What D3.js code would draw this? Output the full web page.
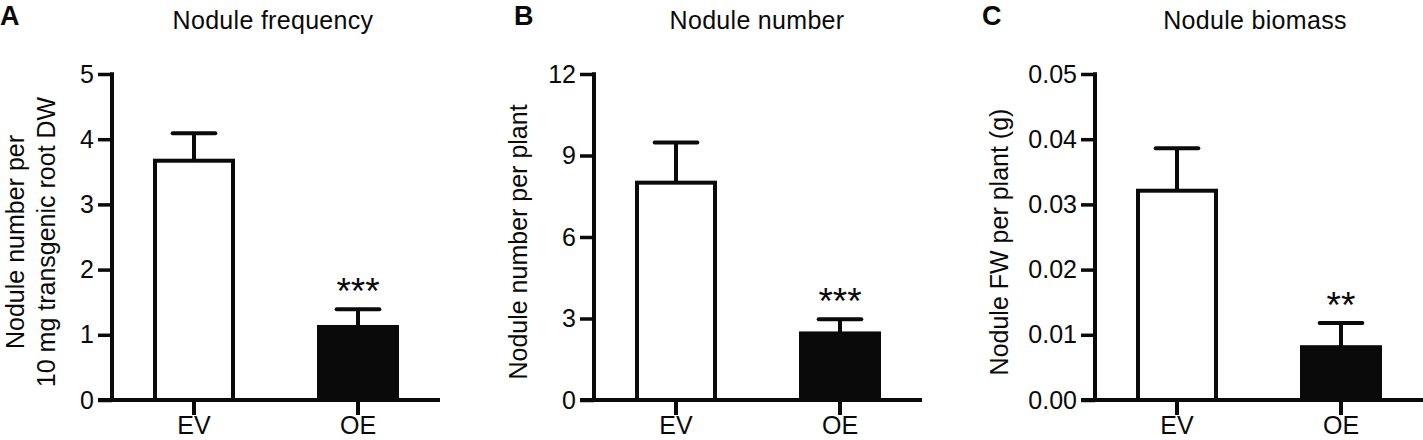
<!DOCTYPE html>
<html>
<head>
<meta charset="utf-8">
<script src="https://cdn.jsdelivr.net/npm/d3@7"></script>
<style>
  html, body { margin: 0; padding: 0; background: #fff; }
  svg { display: block; font-family: "Liberation Sans", Arial, Helvetica, sans-serif; }
</style>
</head>
<body>
<svg id="chart" width="1423" height="440"></svg>
<script>
// ---- data ----
const categories = ["EV", "OE"];

const freqMean = [3.67, 1.12];
const freqSem  = [0.42, 0.27];
const freqStars = ["", "***"];
const freqTicks = [0, 1, 2, 3, 4, 5];

const numMean = [8.0, 2.45];
const numSem  = [1.48, 0.52];
const numStars = ["", "***"];
const numTicks = [0, 3, 6, 9, 12];

const massMean = [0.0321, 0.0081];
const massSem  = [0.0065, 0.0037];
const massStars = ["", "**"];
const massTicks = [0, 0.01, 0.02, 0.03, 0.04, 0.05];

const panelLetters = ["A", "B", "C"];
const panelTitles = ["Nodule frequency", "Nodule number", "Nodule biomass"];
const yLabels = [
  ["Nodule number per", "10 mg transgenic root DW"],
  ["Nodule number per plant"],
  ["Nodule FW per plant (g)"]
];
const barFills = ["#ffffff", "#0a0a0a"];

// ---- layout ----
const svg = d3.select("#chart");
const ink = "#0a0a0a";
const yTop = 74, yBottom = 400;
const plotW = 328;
const fs = 25;

const panels = [
  { axisX: 112, mean: freqMean, sem: freqSem, stars: freqStars, ticks: freqTicks, max: 5, fmt: d3.format("d"), letterX: 0, titleX: 273, ylabX: [24, 55] },
  { axisX: 594, mean: numMean, sem: numSem, stars: numStars, ticks: numTicks, max: 12, fmt: d3.format("d"), letterX: 514, titleX: 757, ylabX: [527] },
  { axisX: 1095, mean: massMean, sem: massSem, stars: massStars, ticks: massTicks, max: 0.05, fmt: d3.format(".2f"), letterX: 982, titleX: 1255, ylabX: [1008] }
];

panels.forEach((p, i) => {
  const g = svg.append("g").attr("transform", `translate(${p.axisX},0)`);

  const y = d3.scaleLinear().domain([0, p.max]).range([yBottom, yTop]);
  const x = d3.scaleBand().domain(categories).range([0, plotW]).paddingInner(0.5).paddingOuter(0.25);

  // bars
  const sw = 4;
  g.selectAll("rect.bar").data(categories).enter().append("rect")
    .attr("class", "bar")
    .attr("x", d => x(d) + sw / 2)
    .attr("width", x.bandwidth() - sw)
    .attr("y", (d, j) => y(p.mean[j]))
    .attr("height", (d, j) => yBottom - y(p.mean[j]))
    .attr("fill", (d, j) => barFills[j])
    .attr("stroke", ink)
    .attr("stroke-width", sw);

  // error bars (upper only)
  const capW = x.bandwidth() * 0.52;
  categories.forEach((c, j) => {
    const cx = x(c) + x.bandwidth() / 2;
    const top = y(p.mean[j] + p.sem[j]);
    g.append("line").attr("x1", cx).attr("x2", cx)
      .attr("y1", y(p.mean[j])).attr("y2", top)
      .attr("stroke", ink).attr("stroke-width", 4);
    g.append("line").attr("x1", cx - capW / 2).attr("x2", cx + capW / 2)
      .attr("y1", top).attr("y2", top)
      .attr("stroke", ink).attr("stroke-width", 4).attr("stroke-linecap", "round");
    if (p.stars[j]) {
      g.append("text").attr("x", cx).attr("y", top - 5)
        .attr("text-anchor", "middle").attr("font-size", 37).attr("fill", ink)
        .text(p.stars[j]);
    }
  });

  // y axis
  const yAxis = d3.axisLeft(y).tickValues(p.ticks).tickFormat(p.fmt).tickSize(14).tickSizeOuter(0).tickPadding(4);
  const ya = g.append("g").call(yAxis);
  ya.select(".domain").remove();
  ya.selectAll(".tick line").attr("stroke", ink).attr("stroke-width", 3.5);
  ya.selectAll(".tick text").attr("font-size", fs).attr("fill", ink)
    .attr("font-family", "'Liberation Sans', Arial, sans-serif");
  g.append("line").attr("x1", 0).attr("x2", 0).attr("y1", yTop - 1.75).attr("y2", yBottom + 2)
    .attr("stroke", ink).attr("stroke-width", 4);

  // x axis
  const xAxis = d3.axisBottom(x).tickSize(15).tickSizeOuter(0);
  const xa = g.append("g").attr("transform", `translate(0,${yBottom})`).call(xAxis);
  xa.select(".domain").remove();
  xa.selectAll(".tick line").attr("stroke", ink).attr("stroke-width", 4);
  xa.selectAll(".tick text").attr("font-size", fs).attr("fill", ink)
    .attr("font-family", "'Liberation Sans', Arial, sans-serif")
    .attr("y", 34).attr("dy", 0);
  g.append("line").attr("x1", -14).attr("x2", plotW).attr("y1", yBottom).attr("y2", yBottom)
    .attr("stroke", ink).attr("stroke-width", 4);

  // panel letter
  svg.append("text").attr("x", p.letterX).attr("y", 25)
    .attr("font-size", 27).attr("font-weight", "bold").attr("fill", ink)
    .text(panelLetters[i]);

  // title
  svg.append("text").attr("x", p.titleX).attr("y", 29)
    .attr("text-anchor", "middle").attr("font-size", fs).attr("fill", ink)
    .attr("letter-spacing", 0.3)
    .text(panelTitles[i]);

  // y label
  yLabels[i].forEach((line, k) => {
    svg.append("text")
      .attr("transform", `translate(${p.ylabX[k]},242) rotate(-90)`)
      .attr("text-anchor", "middle").attr("font-size", fs).attr("fill", ink)
      .text(line);
  });
});
</script>
</body>
</html>
